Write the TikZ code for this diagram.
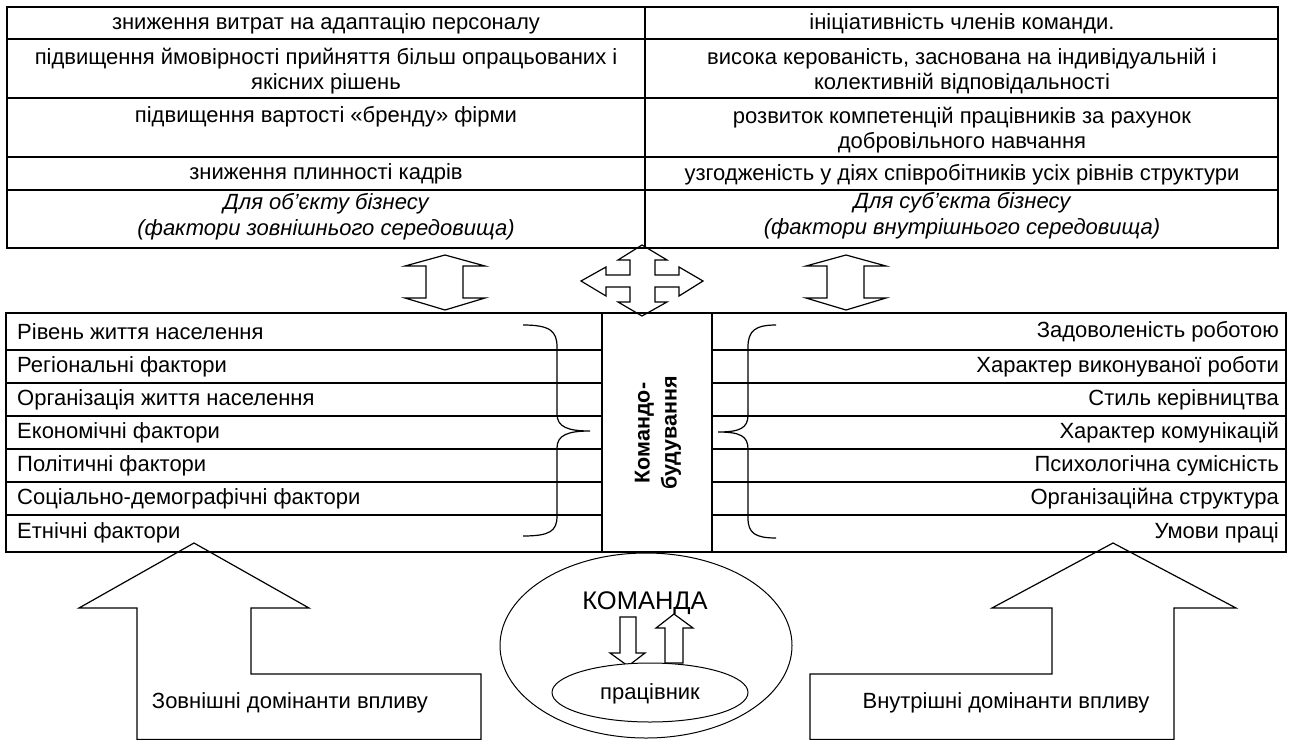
\documentclass[tikz,border=0pt]{standalone}
\usepackage{fontspec}
\setmainfont{Liberation Sans}
\begin{document}
\begin{tikzpicture}[x=1pt,y=-1pt,
  tbl/.style={line width=1.8pt},
  shp/.style={line width=1.2pt, line join=miter},
  brc/.style={line width=1.2pt},
  ell/.style={line width=1pt},
  txt/.style={inner sep=0pt, font=\fontsize{22}{25}\selectfont},
  itx/.style={inner sep=0pt, align=center, font=\fontsize{22}{26}\selectfont\itshape},
  ctx/.style={inner sep=0pt, align=center, font=\fontsize{22}{25}\selectfont},
  ltx/.style={inner sep=0pt, anchor=west, font=\fontsize{22}{25}\selectfont},
  rtx/.style={inner sep=0pt, anchor=east, font=\fontsize{22}{25}\selectfont}]
\useasboundingbox (0,0) rectangle (1292,739);

% ---------- top table ----------
\draw[tbl] (7,7) rectangle (1278,248);
\draw[tbl] (645,7) -- (645,248);
\foreach \y in {39,98,157,190} \draw[tbl] (7,\y) -- (1278,\y);

\node[txt] (t1l) at (326,24) {зниження витрат на адаптацію персоналу};
\node[ctx] (t2l) at (326,71.5) {підвищення ймовірності прийняття більш опрацьованих і\\якісних рішень};
\node[txt] (t3l) at (326,117) {підвищення вартості «бренду» фірми};
\node[txt] (t4l) at (326,174) {зниження плинності кадрів};
\node[itx] (t5l) at (326,217) {Для об’єкту бізнесу\\(фактори зовнішнього середовища)};

\node[txt] (t1r) at (962,24) {ініціативність членів команди.};
\node[ctx] (t2r) at (962,71) {висока керованість, заснована на індивідуальній і\\колективній відповідальності};
\node[ctx] (t3r) at (962,130) {розвиток компетенцій працівників за рахунок\\добровільного навчання};
\node[txt] (t4r) at (962,175) {узгодженість у діях співробітників усіх рівнів структури};
\node[itx] (t5r) at (962,216) {Для суб’єкта бізнесу\\(фактори внутрішнього середовища)};

% ---------- double arrows ----------
\draw[shp] (445,255) -- (485,266) -- (463,266) -- (463,298) -- (485,298) -- (445,310)
  -- (405,298) -- (426,298) -- (426,266) -- (405,266) -- cycle;
\draw[shp] (846,255) -- (886,266) -- (864,266) -- (864,298) -- (886,298) -- (846,310)
  -- (806,298) -- (827,298) -- (827,266) -- (806,266) -- cycle;
\draw[shp] (642,245) -- (667,260) -- (655,260) -- (655,275) -- (679,275) -- (679,267)
  -- (703,281) -- (679,296) -- (679,287) -- (655,287) -- (655,302) -- (667,302)
  -- (642,316) -- (618,302) -- (630,302) -- (630,287) -- (606,287) -- (606,296)
  -- (581,281) -- (606,267) -- (606,275) -- (630,275) -- (630,260) -- (618,260) -- cycle;

% ---------- lower table ----------
\draw[tbl] (6,313) rectangle (1286,552);
\draw[tbl] (602,313) -- (602,552);
\draw[tbl] (712,313) -- (712,552);
\foreach \y in {350,383,416,449,482,515} {
  \draw[tbl] (6,\y) -- (602,\y);
  \draw[tbl] (712,\y) -- (1286,\y);
}

\node[ltx] (l1) at (17,331.5) {Рівень життя населення};
\node[ltx] (l2) at (17,366.5) {Регіональні фактори};
\node[ltx] (l3) at (17,399.5) {Організація життя населення};
\node[ltx] (l4) at (17,432.5) {Економічні фактори};
\node[ltx] (l5) at (17,465.5) {Політичні фактори};
\node[ltx] (l6) at (17,498.5) {Соціально-демографічні фактори};
\node[ltx] (l7) at (17,533) {Етнічні фактори};

\node[rtx] (r1) at (1279,331.5) {Задоволеність роботою};
\node[rtx] (r2) at (1279,366.5) {Характер виконуваної роботи};
\node[rtx] (r3) at (1279,399.5) {Стиль керівництва};
\node[rtx] (r4) at (1279,432.5) {Характер комунікацій};
\node[rtx] (r5) at (1279,465.5) {Психологічна сумісність};
\node[rtx] (r6) at (1279,498.5) {Організаційна структура};
\node[rtx] (r7) at (1279,533) {Умови праці};

\node[inner sep=0pt, rotate=90, align=center, font=\fontsize{21.5}{27}\selectfont\bfseries] (kb) at (658,433) {Командо-\\будування};

% braces
\draw[brc] (523,325) .. controls (550,325) and (557,331) .. (557,347) -- (557,414)
  .. controls (557,427) and (568,431) .. (590,431)
  .. controls (568,431) and (557,435) .. (557,448) -- (557,516)
  .. controls (557,531) and (550,536) .. (523,536);
\draw[brc] (776,325) .. controls (755,325) and (748,331) .. (748,347) -- (748,415)
  .. controls (748,428) and (740,432) .. (718,432)
  .. controls (740,432) and (748,436) .. (748,449) -- (748,518)
  .. controls (748,533) and (755,538) .. (776,538);

% ---------- bottom arrows ----------
\draw[shp] (137,739.5) -- (137,608) -- (79,608) -- (194,543) -- (309,608) -- (251,608)
  -- (251,674) -- (481,674) -- (481,739.5) -- cycle;
\draw[shp] (1174,739.5) -- (1174,608) -- (1236,608) -- (1113,543) -- (992,608) -- (1052,608)
  -- (1052,674) -- (810,674) -- (810,739.5) -- cycle;
\node[txt] (ext) at (290,703) {Зовнішні домінанти впливу};
\node[txt] (int) at (1006,703) {Внутрішні домінанти впливу};

% ---------- team ellipse ----------
\draw[ell] (646,645.5) ellipse [x radius=146, y radius=92.5];
\node[inner sep=0pt, font=\fontsize{25.5}{30}\selectfont] (team) at (645,603) {КОМАНДА};
\draw[shp] (620,617) -- (636,617) -- (636,653) -- (645,653) -- (628,666) -- (610,653) -- (620,653) -- cycle;
\draw[shp] (665,663) -- (665,628) -- (656,628) -- (674,614) -- (693,628) -- (683,628) -- (683,663) -- cycle;
\draw[ell, fill=white] (650,692.5) ellipse [x radius=98, y radius=29.5];
\node[txt] (worker) at (650,694) {працівник};
\end{tikzpicture}
\end{document}
